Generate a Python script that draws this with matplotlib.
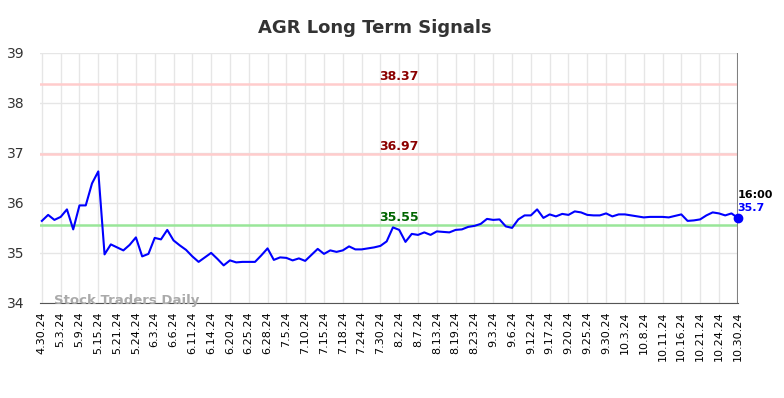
import numpy as np
import matplotlib
matplotlib.use('Agg')
import matplotlib.pyplot as plt

# tick labels (every 3rd point)
tick_labels = ['4.30.24', '5.3.24', '5.9.24', '5.15.24', '5.21.24', '5.24.24', '6.3.24',
               '6.6.24', '6.11.24', '6.14.24', '6.20.24', '6.25.24', '6.28.24', '7.5.24',
               '7.10.24', '7.15.24', '7.18.24', '7.24.24', '7.30.24', '8.2.24', '8.7.24',
               '8.13.24', '8.19.24', '8.23.24', '9.3.24', '9.6.24', '9.12.24', '9.17.24',
               '9.20.24', '9.25.24', '9.30.24', '10.3.24', '10.8.24', '10.11.24',
               '10.16.24', '10.21.24', '10.24.24', '10.30.24']

prices = [35.64, 35.76, 35.66, 35.72, 35.87, 35.47, 35.95, 35.95, 36.39, 36.63,
          34.97, 35.17, 35.11, 35.05, 35.16, 35.31, 34.93, 34.98, 35.30, 35.27,
          35.46, 35.25, 35.15, 35.06, 34.93, 34.82, 34.91, 35.00, 34.88, 34.75,
          34.85, 34.81, 34.82, 34.82, 34.82, 34.95, 35.09, 34.86, 34.91, 34.90,
          34.85, 34.89, 34.84, 34.96, 35.08, 34.98, 35.05, 35.02, 35.05, 35.13,
          35.07, 35.07, 35.09, 35.11, 35.14, 35.23, 35.51, 35.46, 35.22, 35.38,
          35.36, 35.41, 35.36, 35.43, 35.42, 35.41, 35.46, 35.47, 35.52, 35.54,
          35.58, 35.68, 35.66, 35.67, 35.53, 35.50, 35.67, 35.75, 35.75, 35.87,
          35.70, 35.77, 35.73, 35.78, 35.76, 35.83, 35.81, 35.76, 35.75, 35.75,
          35.79, 35.73, 35.77, 35.77, 35.75, 35.73, 35.71, 35.72, 35.72, 35.72,
          35.71, 35.74, 35.77, 35.64, 35.65, 35.67, 35.75, 35.81, 35.79, 35.75,
          35.79, 35.70]

upper = 38.37
middle = 36.97
lower = 35.55

fig = plt.figure(figsize=(7.84, 3.98), dpi=100)
ax = fig.add_axes([0.051, 0.239, 0.890, 0.628])

x = np.arange(len(prices))
ax.plot(x, prices, color='blue', lw=1.5, zorder=3)
ax.plot(x[-1], prices[-1], 'o', color='blue', ms=6, zorder=4, clip_on=False)

ax.axhline(upper, color='#ffcccc', lw=1.8, zorder=2)
ax.axhline(middle, color='#ffcccc', lw=1.8, zorder=2)
ax.axhline(lower, color='#99e699', lw=1.8, zorder=2)
ax.axvline(x[-1], color='grey', lw=1.5, zorder=2)

mid = 57
ax.text(mid, upper + 0.03, f'{upper:.2f}', color='darkred', fontsize=9, fontweight='bold',
        ha='center', va='bottom')
ax.text(mid, middle + 0.03, f'{middle:.2f}', color='darkred', fontsize=9, fontweight='bold',
        ha='center', va='bottom')
ax.text(mid, lower + 0.03, f'{lower:.2f}', color='darkgreen', fontsize=9, fontweight='bold',
        ha='center', va='bottom')

ax.text(x[-1], prices[-1] + 0.35, '16:00', color='black', fontsize=8, fontweight='bold',
        ha='left', va='bottom')
ax.text(x[-1], prices[-1] + 0.1, f'{prices[-1]}', color='blue', fontsize=8, fontweight='bold',
        ha='left', va='bottom')

ax.text(2, 34.04, 'Stock Traders Daily', color='#aaaaaa', fontsize=9.5, fontweight='bold',
        ha='left', va='center', zorder=5)

ax.set_xlim(-0.3, x[-1])
ax.set_ylim(34, 39)
ax.set_yticks([34, 35, 36, 37, 38, 39])
ax.set_xticks(np.arange(0, len(prices), 3))
ax.set_xticklabels(tick_labels, rotation=90, fontsize=8)
ax.tick_params(axis='y', labelsize=10, length=0, pad=11, colors='#333333')
ax.tick_params(axis='x', length=0, pad=6)

ax.grid(True, color='#e6e6e6', lw=1)
ax.set_axisbelow(True)
for s in ['top', 'right', 'left']:
    ax.spines[s].set_visible(False)
ax.spines['bottom'].set_color('#555555')

ax.set_title('AGR Long Term Signals', fontsize=13, fontweight='bold', color='#333333',
             pad=14, x=0.48)

fig.savefig('out.png', dpi=100)
